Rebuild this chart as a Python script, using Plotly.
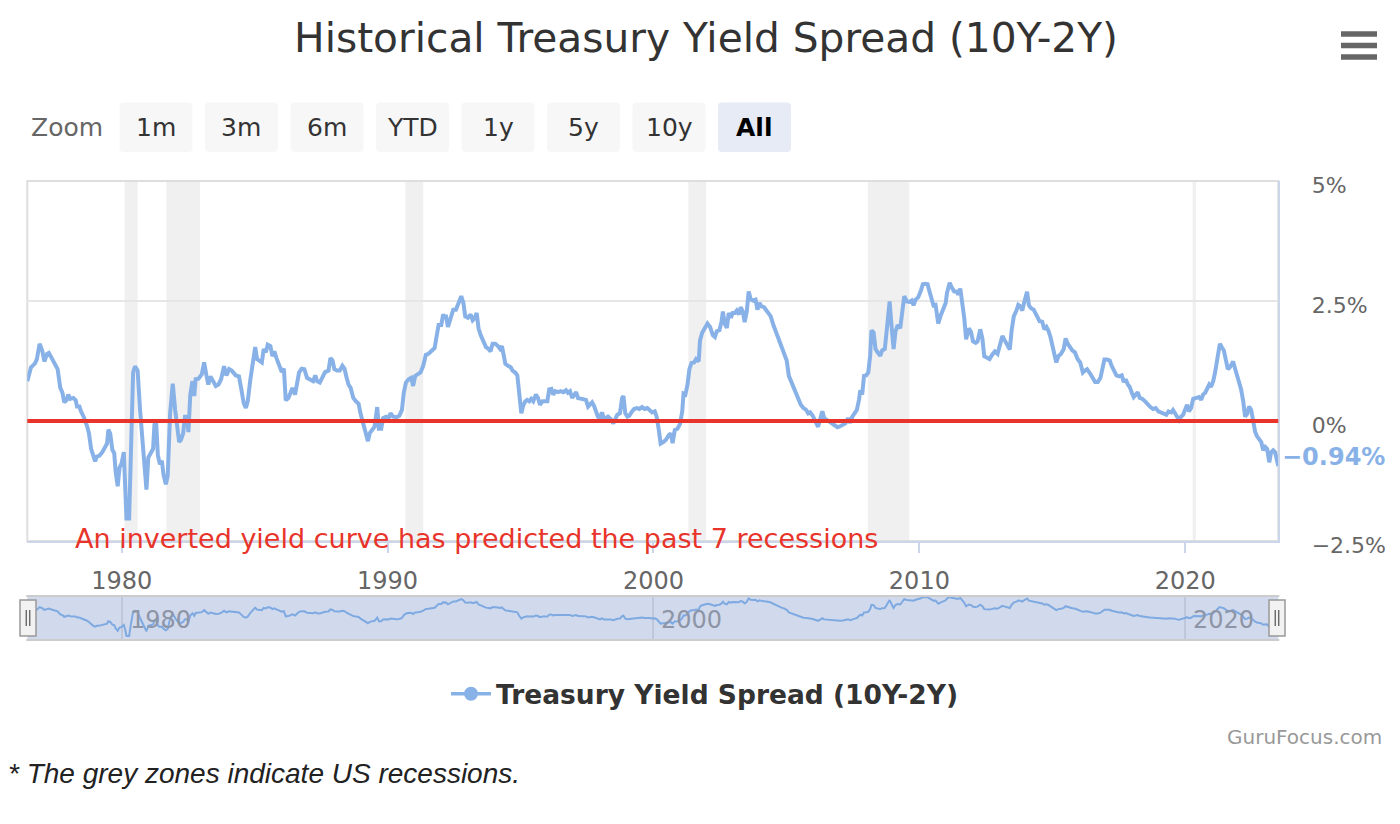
import plotly.graph_objects as go
import pandas as pd

# ---------------- data ----------------
years_1976_1984 = [
    1976.45, 1976.59, 1976.74, 1976.81, 1976.91,
    1977.01, 1977.09, 1977.19, 1977.26, 1977.36, 1977.52, 1977.59, 1977.69, 1977.77, 1977.84, 1977.93, 1977.99,
    1978.07, 1978.18, 1978.27, 1978.32, 1978.41, 1978.47, 1978.57, 1978.70, 1978.77, 1978.85, 1978.92,
    1979.00, 1979.07, 1979.17, 1979.27, 1979.37, 1979.45, 1979.50, 1979.57, 1979.65, 1979.72, 1979.77, 1979.85, 1979.92,
    1980.00, 1980.08, 1980.13, 1980.18, 1980.28, 1980.35, 1980.43, 1980.50, 1980.60, 1980.69, 1980.78, 1980.85, 1980.93,
    1981.00, 1981.10, 1981.18, 1981.23, 1981.29, 1981.36, 1981.44, 1981.51, 1981.57, 1981.66, 1981.73, 1981.82, 1981.92,
    1982.01, 1982.10, 1982.16, 1982.23, 1982.31, 1982.38, 1982.46, 1982.51, 1982.58, 1982.66, 1982.73, 1982.78, 1982.89,
    1983.01, 1983.10, 1983.19, 1983.26, 1983.34, 1983.45, 1983.54, 1983.64, 1983.74, 1983.85, 1983.94,
    1984.04, 1984.14,
]
spread_1976_1984 = [
    0.83, 1.12, 1.20, 1.29, 1.61,
    1.47, 1.24, 1.40, 1.42, 1.31, 1.15, 1.08, 0.69, 0.59, 0.39, 0.44, 0.55,
    0.46, 0.48, 0.43, 0.30, 0.30, 0.20, 0.09, -0.11, -0.26, -0.58, -0.72,
    -0.84, -0.74, -0.72, -0.65, -0.54, -0.47, -0.18, -0.26, -0.60, -0.67, -1.04, -1.36, -0.97,
    -0.88, -0.65, -1.18, -2.03, -2.03, -0.47, 1.01, 1.14, 1.05, 0.23, -0.32, -0.86, -1.43,
    -0.76, -0.65, -0.58, -0.08, 0.02, -0.72, -0.90, -0.83, -1.11, -1.32, -1.14, 0.16, 0.78,
    0.23, -0.12, -0.44, -0.39, -0.26, 0.09, 0.09, -0.23, 0.55, 0.83, 0.52, 0.87, 0.88,
    0.97, 1.22, 0.94, 0.76, 0.93, 0.80, 0.73, 0.76, 0.87, 1.14, 0.95,
    1.08, 1.05,
]

years_1984_1992 = [
    1984.29, 1984.41, 1984.50, 1984.59, 1984.67, 1984.74, 1984.84, 1984.94,
    1985.02, 1985.09, 1985.19, 1985.27, 1985.34, 1985.42, 1985.49, 1985.59, 1985.67, 1985.74, 1985.82, 1985.92,
    1986.02, 1986.10, 1986.17, 1986.27, 1986.35, 1986.42, 1986.52, 1986.60, 1986.67, 1986.77, 1986.87, 1986.97,
    1987.10, 1987.20, 1987.28, 1987.35, 1987.45, 1987.55, 1987.65, 1987.78, 1987.85, 1987.93,
    1988.00, 1988.10, 1988.20, 1988.30, 1988.38, 1988.46, 1988.53, 1988.61, 1988.71, 1988.81, 1988.91, 1988.98,
    1989.06, 1989.13, 1989.18, 1989.26, 1989.33, 1989.43, 1989.51, 1989.61, 1989.67, 1989.76, 1989.83, 1989.94,
    1990.04, 1990.11, 1990.21, 1990.34, 1990.44, 1990.54, 1990.61, 1990.69, 1990.79, 1990.89, 1990.96,
    1991.04, 1991.14, 1991.24, 1991.34, 1991.44, 1991.54, 1991.64, 1991.77, 1991.84, 1991.92,
    1992.02, 1992.09, 1992.17,
]
spread_1984_1992 = [
    0.95, 0.93, 0.66, 0.37, 0.27, 0.41, 0.87, 1.33,
    1.54, 1.29, 1.26, 1.22, 1.50, 1.43, 1.59, 1.56, 1.35, 1.45, 1.31, 1.15,
    1.02, 1.09, 0.43, 0.48, 0.57, 0.69, 0.55, 0.80, 1.01, 1.09, 1.08, 0.90,
    0.85, 0.83, 0.95, 0.83, 0.80, 0.93, 1.02, 1.05, 1.31, 1.26,
    1.08, 1.05, 1.05, 1.15, 1.09, 0.90, 0.76, 0.69, 0.48, 0.41, 0.36, 0.16,
    -0.01, -0.16, -0.23, -0.42, -0.25, -0.18, -0.12, 0.29, -0.16, -0.16, 0.06, 0.09,
    0.06, 0.16, 0.09, 0.08, 0.11, 0.23, 0.59, 0.80, 0.87, 0.90, 0.73,
    0.94, 0.97, 1.01, 1.15, 1.38, 1.40, 1.45, 1.52, 1.75, 2.00,
    2.00, 2.22, 2.14,
]

years_1992_2000 = [
    1992.19, 1992.27, 1992.37, 1992.47, 1992.57, 1992.64, 1992.77, 1992.85, 1992.92,
    1993.02, 1993.12, 1993.20, 1993.27, 1993.35, 1993.42, 1993.50, 1993.60, 1993.70, 1993.80, 1993.87, 1993.95,
    1994.05, 1994.15, 1994.23, 1994.30, 1994.35, 1994.43, 1994.53, 1994.63, 1994.70, 1994.80, 1994.88, 1994.95,
    1995.03, 1995.10, 1995.18, 1995.25, 1995.33, 1995.40, 1995.48, 1995.58, 1995.66, 1995.73, 1995.83, 1995.93,
    1996.01, 1996.08, 1996.16, 1996.23, 1996.31, 1996.41, 1996.51, 1996.61, 1996.71, 1996.78, 1996.86, 1996.94,
    1997.01, 1997.09, 1997.16, 1997.26, 1997.36, 1997.46, 1997.54, 1997.61, 1997.69, 1997.76, 1997.84, 1997.91, 1997.99,
    1998.06, 1998.14, 1998.22, 1998.29, 1998.39, 1998.49, 1998.57, 1998.64, 1998.74, 1998.82, 1998.87, 1998.94,
    1999.02, 1999.09, 1999.17, 1999.27, 1999.37, 1999.47, 1999.57, 1999.67, 1999.77, 1999.87, 1999.95,
]
spread_1992_2000 = [
    2.21, 1.96, 2.18, 2.32, 2.32, 2.44, 2.60, 2.46, 2.18,
    2.15, 2.22, 2.10, 2.14, 2.25, 1.93, 1.79, 1.66, 1.54, 1.50, 1.45, 1.61,
    1.61, 1.56, 1.50, 1.56, 1.40, 1.19, 1.15, 1.12, 1.05, 1.01, 0.95, 0.52,
    0.16, 0.32, 0.41, 0.44, 0.41, 0.46, 0.41, 0.55, 0.48, 0.34, 0.41, 0.41,
    0.41, 0.66, 0.67, 0.55, 0.62, 0.60, 0.62, 0.60, 0.64, 0.59, 0.62, 0.48,
    0.53, 0.60, 0.48, 0.46, 0.44, 0.44, 0.30, 0.34, 0.39, 0.32, 0.20, 0.09, 0.06,
    0.18, 0.06, 0.06, 0.09, 0.04, -0.05, 0.06, 0.13, 0.16, 0.48, 0.52, 0.16,
    0.09, 0.11, 0.18, 0.25, 0.27, 0.25, 0.29, 0.25, 0.27, 0.23, 0.18,
]

years_2000_2007 = [
    2000.05, 2000.12, 2000.20, 2000.27, 2000.37, 2000.47, 2000.57, 2000.65, 2000.72, 2000.80, 2000.90,
    2001.00, 2001.08, 2001.13, 2001.20, 2001.28, 2001.35, 2001.43, 2001.53, 2001.60, 2001.70, 2001.75, 2001.83, 2001.93,
    2002.03, 2002.13, 2002.23, 2002.31, 2002.38, 2002.48, 2002.56, 2002.61, 2002.68, 2002.76, 2002.83, 2002.91, 2002.98,
    2003.06, 2003.13, 2003.21, 2003.28, 2003.36, 2003.43, 2003.51, 2003.58, 2003.66, 2003.74, 2003.84, 2003.91, 2003.99,
    2004.06, 2004.16, 2004.24, 2004.31, 2004.41, 2004.51, 2004.61, 2004.71, 2004.81, 2004.91,
    2005.01, 2005.09, 2005.19, 2005.29, 2005.37, 2005.47, 2005.54, 2005.64, 2005.74, 2005.82, 2005.89, 2005.99,
    2006.09, 2006.19, 2006.27, 2006.35, 2006.42, 2006.52, 2006.62, 2006.72, 2006.82, 2006.92,
    2007.02, 2007.12, 2007.22, 2007.32, 2007.40, 2007.48, 2007.58, 2007.65, 2007.73, 2007.78,
]
spread_2000_2007 = [
    0.20, 0.09, -0.18, -0.47, -0.44, -0.39, -0.30, -0.26, -0.46, -0.19, -0.16,
    -0.06, 0.20, 0.57, 0.55, 0.76, 1.08, 1.21, 1.22, 1.29, 1.24, 1.68, 1.84, 1.94,
    2.03, 1.96, 1.79, 1.75, 1.87, 1.89, 2.07, 2.28, 2.03, 1.94, 2.25, 2.15, 2.25,
    2.25, 2.30, 2.22, 2.37, 2.28, 2.06, 2.28, 2.70, 2.53, 2.51, 2.53, 2.32, 2.46,
    2.39, 2.37, 2.30, 2.27, 2.18, 2.00, 1.86, 1.72, 1.54, 1.45,
    1.26, 0.94, 0.80, 0.71, 0.60, 0.44, 0.34, 0.27, 0.23, 0.16, 0.18, 0.11,
    -0.01, -0.12, 0.04, 0.20, 0.06, 0.02, -0.01, -0.05, -0.08, -0.13,
    -0.11, -0.08, -0.05, 0.06, -0.04, 0.09, 0.16, 0.23, 0.44, 0.64,
]

years_2007_2015 = [
    2007.85, 2007.92,
    2008.00, 2008.08, 2008.15, 2008.20, 2008.28, 2008.35, 2008.43, 2008.53, 2008.60, 2008.70, 2008.78, 2008.88, 2008.95,
    2009.03, 2009.10, 2009.18, 2009.28, 2009.36, 2009.43, 2009.53, 2009.63, 2009.71, 2009.78, 2009.86, 2009.96,
    2010.06, 2010.13, 2010.23, 2010.31, 2010.38, 2010.46, 2010.53, 2010.61, 2010.71, 2010.81, 2010.91, 2010.99,
    2011.04, 2011.14, 2011.21, 2011.31, 2011.41, 2011.46, 2011.54, 2011.61, 2011.69, 2011.76, 2011.86, 2011.94,
    2012.02, 2012.12, 2012.19, 2012.29, 2012.37, 2012.44, 2012.54, 2012.64, 2012.74, 2012.84, 2012.94,
    2013.04, 2013.12, 2013.19, 2013.30, 2013.40, 2013.47, 2013.55, 2013.65, 2013.72, 2013.80, 2013.87, 2013.95,
    2014.05, 2014.12, 2014.20, 2014.30, 2014.37, 2014.45, 2014.52, 2014.62, 2014.70, 2014.78, 2014.85, 2014.93,
    2015.00, 2015.08, 2015.15, 2015.23, 2015.33, 2015.43, 2015.50, 2015.58,
]
spread_2007_2015 = [
    0.55, 0.94,
    0.95, 1.01, 1.36, 1.89, 1.84, 1.50, 1.43, 1.36, 1.47, 1.50, 1.93, 2.49, 2.00,
    1.50, 1.86, 2.00, 1.93, 2.32, 2.60, 2.49, 2.48, 2.51, 2.41, 2.53, 2.58,
    2.72, 2.85, 2.86, 2.85, 2.70, 2.56, 2.41, 2.42, 2.03, 2.21, 2.37, 2.46,
    2.67, 2.88, 2.79, 2.70, 2.70, 2.63, 2.76, 2.49, 2.14, 1.70, 1.93, 1.86,
    1.66, 1.63, 1.66, 1.91, 1.72, 1.35, 1.33, 1.29, 1.38, 1.45, 1.40,
    1.59, 1.77, 1.70, 1.57, 1.49, 1.89, 2.18, 2.30, 2.42, 2.39, 2.30, 2.49,
    2.69, 2.41, 2.35, 2.32, 2.25, 2.14, 2.08, 2.07, 1.91, 1.96, 1.89, 1.75,
    1.57, 1.38, 1.22, 1.35, 1.40, 1.50, 1.72, 1.61,
]

years_2015_2023 = [
    2015.65, 2015.75, 2015.85, 2015.95,
    2016.05, 2016.15, 2016.23, 2016.31, 2016.41, 2016.51, 2016.61, 2016.71, 2016.81, 2016.88, 2016.96,
    2017.06, 2017.16, 2017.23, 2017.33, 2017.41, 2017.51, 2017.61, 2017.69, 2017.76, 2017.84, 2017.91, 2017.99,
    2018.06, 2018.14, 2018.21, 2018.29, 2018.39, 2018.49, 2018.59, 2018.69, 2018.79, 2018.89, 2018.99,
    2019.09, 2019.19, 2019.29, 2019.37, 2019.47, 2019.54, 2019.62, 2019.69, 2019.77, 2019.84, 2019.92, 2019.99,
    2020.07, 2020.14, 2020.22, 2020.30, 2020.37, 2020.45, 2020.52, 2020.60, 2020.67, 2020.75, 2020.82, 2020.90, 2020.97,
    2021.05, 2021.12, 2021.17, 2021.22, 2021.30, 2021.37, 2021.45, 2021.52, 2021.60, 2021.68, 2021.75, 2021.80, 2021.88, 2021.95,
    2022.03, 2022.10, 2022.18, 2022.25, 2022.33, 2022.40, 2022.48, 2022.55, 2022.63, 2022.70, 2022.78, 2022.86, 2022.93,
    2023.01, 2023.08, 2023.16, 2023.23, 2023.31, 2023.38, 2023.50,
]
spread_2015_2023 = [
    1.54, 1.47, 1.43, 1.29,
    1.22, 1.01, 1.05, 1.08, 1.00, 0.90, 0.81, 0.81, 0.90, 1.08, 1.28,
    1.28, 1.26, 1.15, 1.05, 0.95, 0.93, 0.95, 0.81, 0.87, 0.76, 0.71, 0.59,
    0.50, 0.55, 0.60, 0.48, 0.46, 0.41, 0.34, 0.29, 0.25, 0.27, 0.20,
    0.18, 0.16, 0.13, 0.20, 0.18, 0.23, 0.15, 0.06, 0.02, 0.09, 0.13, 0.23,
    0.34, 0.20, 0.27, 0.46, 0.48, 0.48, 0.50, 0.44, 0.55, 0.59, 0.66, 0.76, 0.71,
    0.83, 1.01, 1.19, 1.40, 1.61, 1.54, 1.47, 1.29, 1.08, 1.12, 1.19, 1.24, 1.08, 0.94,
    0.83, 0.66, 0.41, 0.09, 0.15, 0.30, 0.23, -0.05, -0.23, -0.32, -0.37, -0.44, -0.61,
    -0.54, -0.58, -0.86, -0.65, -0.61, -0.65, -0.94,
]

recession_starts = [1980.11, 1981.68, 1990.67, 2001.31, 2008.06, 2020.28]
recession_ends = [1980.60, 1982.95, 1991.34, 2001.98, 2009.62, 2020.40]

x_tick_years = [1980, 1990, 2000, 2010, 2020]
navigator_tick_years = [1980, 2000, 2020]
y_tick_values = [-2.5, 0, 2.5, 5]
y_tick_labels = ["\u22122.5%", "0%", "2.5%", "5%"]
zoom_buttons = ["1m", "3m", "6m", "YTD", "1y", "5y", "10y", "All"]
active_button = "All"

series_name = "Treasury Yield Spread (10Y-2Y)"
title_text = "Historical Treasury Yield Spread (10Y-2Y)"
note_text = "An inverted yield curve has predicted the past 7 recessions"
footnote_text = "* The grey zones indicate US recessions."
credits_text = "GuruFocus.com"

# ---------------- assemble ----------------
segments = [
    (years_1976_1984, spread_1976_1984), (years_1984_1992, spread_1984_1992),
    (years_1992_2000, spread_1992_2000), (years_2000_2007, spread_2000_2007),
    (years_2007_2015, spread_2007_2015), (years_2015_2023, spread_2015_2023),
]
years, spread = [], []
for ys, vs in segments:
    if len(ys) != len(vs):
        raise ValueError(f"segment starting {ys[0]}: {len(ys)} years vs {len(vs)} values")
    years += ys
    spread += vs


def to_date(v):
    y = int(v)
    start = pd.Timestamp(year=y, month=1, day=1)
    end = pd.Timestamp(year=y + 1, month=1, day=1)
    return start + (end - start) * (v - y)


dates = [to_date(v) for v in years]

W, H = 1400, 824
FONT = "DejaVu Sans"
LINE_COLOR = "#88b2e7"
RED = "#e8342a"


def fx(p):
    return p / W


def fy(p):
    return 1 - p / H


PL, PR, PT, PB = 27.3, 1278.3, 181, 541      # main plot box (px)
NT, NB = 596, 640                            # navigator box (px)

fig = go.Figure()

fig.add_trace(go.Scatter(
    x=dates, y=spread, mode="lines", name=series_name, showlegend=False,
    line=dict(color=LINE_COLOR, width=4), xaxis="x", yaxis="y",
    hovertemplate="%{x|%b %Y}: %{y:.2f}%<extra></extra>",
))
# legend entry (line + circle marker)
fig.add_trace(go.Scatter(
    x=[None], y=[None], mode="lines+markers", name=series_name,
    line=dict(color=LINE_COLOR, width=3.5),
    marker=dict(color=LINE_COLOR, size=14, symbol="circle"),
))
# navigator series
fig.add_trace(go.Scatter(
    x=dates, y=spread, mode="lines", showlegend=False, hoverinfo="skip",
    line=dict(color="#7ea9e1", width=2), xaxis="x2", yaxis="y2",
))

shapes = []
# recession zones
for s, e in zip(recession_starts, recession_ends):
    shapes.append(dict(type="rect", xref="x", yref="y domain", x0=to_date(s), x1=to_date(e),
                       y0=0, y1=1, fillcolor="#f0f0f0", line=dict(width=0), layer="below"))
# plot border (top/left)
shapes.append(dict(type="rect", xref="paper", yref="paper", x0=fx(PL), x1=fx(PR), y0=fy(PB), y1=fy(PT),
                   line=dict(color="#dedede", width=2), layer="below"))
# zero line
shapes.append(dict(type="line", xref="x domain", yref="y", x0=0, x1=1, y0=0, y1=0,
                   line=dict(color=RED, width=4), layer="above"))
# navigator background + outline
shapes.append(dict(type="rect", xref="paper", yref="paper", x0=fx(PL), x1=fx(PR), y0=fy(NB), y1=fy(NT),
                   fillcolor="rgba(102,133,194,0.3)", line=dict(width=0), layer="below"))
for yy in (NT, NB):
    shapes.append(dict(type="line", xref="paper", yref="paper", x0=fx(PL - 1), x1=fx(PR + 1), y0=fy(yy), y1=fy(yy),
                       line=dict(color="#cccccc", width=2), layer="above"))
# navigator handles
for cx in (PL + 0.7, PR - 1.3):
    shapes.append(dict(type="rect", xref="paper", yref="paper", x0=fx(cx - 8), x1=fx(cx + 8),
                       y0=fy(636), y1=fy(600), fillcolor="#f2f2f2", line=dict(color="#999999", width=1.5),
                       layer="above"))
    for dx in (-1.8, 1.8):
        shapes.append(dict(type="line", xref="paper", yref="paper", x0=fx(cx + dx), x1=fx(cx + dx),
                           y0=fy(626), y1=fy(610), line=dict(color="#333333", width=1), layer="above"))


# range selector buttons (rounded rects)
def rounded(x0, y0, x1, y1, r=4):
    X0, X1, Y0, Y1 = fx(x0), fx(x1), fy(y0), fy(y1)
    rx, ry = r / W, r / H
    return (f"M {X0+rx},{Y0} L {X1-rx},{Y0} Q {X1},{Y0} {X1},{Y0-ry} "
            f"L {X1},{Y1+ry} Q {X1},{Y1} {X1-rx},{Y1} L {X0+rx},{Y1} Q {X0},{Y1} {X0},{Y1+ry} "
            f"L {X0},{Y0-ry} Q {X0},{Y0} {X0+rx},{Y0} Z")


annotations = []
BX0, BW, BSTEP, BY0, BY1 = 119.5, 73, 85.5, 102.5, 152
for i, lab in enumerate(zoom_buttons):
    x0 = BX0 + i * BSTEP
    active = lab == active_button
    shapes.append(dict(type="path", xref="paper", yref="paper", path=rounded(x0, BY0, x0 + BW, BY1),
                       fillcolor="#e6ebf5" if active else "#f7f7f7", line=dict(width=0)))
    annotations.append(dict(xref="paper", yref="paper", x=fx(x0 + BW / 2), y=fy((BY0 + BY1) / 2),
                            text=f"<b>{lab}</b>" if active else lab, showarrow=False,
                            xanchor="center", yanchor="middle",
                            font=dict(family=FONT, size=25, color="#000000" if active else "#333333")))
annotations.append(dict(xref="paper", yref="paper", x=fx(29), y=fy(127.5), text="Zoom", showarrow=False,
                        xanchor="left", yanchor="middle", font=dict(family=FONT, size=25, color="#666666")))

# hamburger menu
for yy in (34, 45.5, 57):
    shapes.append(dict(type="line", xref="paper", yref="paper", x0=fx(1341), x1=fx(1377), y0=fy(yy), y1=fy(yy),
                       line=dict(color="#666666", width=5.5)))

# red note inside the plot
annotations.append(dict(xref="paper", yref="paper", x=fx(73), y=fy(538), text=note_text, showarrow=False,
                        xanchor="left", yanchor="middle", font=dict(family=FONT, size=27, color=RED)))
# last value label
last_val = spread[-1]
last_txt = (f"{last_val:.2f}%").replace("-", "\u2212")
annotations.append(dict(xref="x", yref="y", x=dates[-1], y=last_val, text=f"<b>{last_txt}</b>", showarrow=False,
                        xanchor="left", yanchor="middle", xshift=2, yshift=9,
                        font=dict(family=FONT, size=24, color=LINE_COLOR)))
# navigator labels
for yv in navigator_tick_years:
    annotations.append(dict(xref="x2", yref="paper", x=to_date(yv), y=fy(620), text=str(yv), showarrow=False,
                            xanchor="left", yanchor="middle", xshift=6,
                            font=dict(family=FONT, size=24, color="#8e95a6")))
# credits & footnote
annotations.append(dict(xref="paper", yref="paper", x=fx(1384), y=fy(737), text=credits_text, showarrow=False,
                        xanchor="right", yanchor="middle", font=dict(family=FONT, size=20, color="#999999")))
annotations.append(dict(xref="paper", yref="paper", x=fx(6), y=fy(773), text=f"<i>{footnote_text}</i>",
                        showarrow=False, xanchor="left", yanchor="middle",
                        font=dict(family="Liberation Sans", size=28, color="#222222")))

x_range = [dates[0], dates[-1]]

fig.update_layout(
    width=W, height=H, autosize=False,
    margin=dict(l=0, r=0, t=0, b=0, pad=0, autoexpand=False),
    paper_bgcolor="white", plot_bgcolor="rgba(0,0,0,0)",
    font=dict(family=FONT, color="#333333"),
    title=dict(text=title_text, x=fx(706), xanchor="center", y=fy(38), yanchor="middle",
               xref="paper", yref="paper", automargin=False,
               font=dict(family=FONT, size=40.7, color="#333333")),
    xaxis=dict(domain=[fx(PL), fx(PR)], anchor="y", type="date", range=x_range, automargin=False,
               tickvals=[to_date(v) for v in x_tick_years], ticktext=[str(v) for v in x_tick_years],
               ticks="outside", ticklen=10, tickwidth=2, tickcolor="#ccd6eb",
               showline=True, linecolor="#ccd6eb", linewidth=2, showgrid=False, zeroline=False,
               tickfont=dict(family=FONT, size=24, color="#666666"), ticklabelstandoff=7, fixedrange=True),
    yaxis=dict(domain=[fy(PB), fy(PT)], anchor="x", side="right", range=[-2.5, 5], automargin=False,
               tickvals=y_tick_values, ticktext=y_tick_labels, ticks="",
               showgrid=True, gridcolor="#e6e6e6", gridwidth=2, zeroline=False,
               showline=True, linecolor="#ccd6eb", linewidth=2,
               tickfont=dict(family=FONT, size=22, color="#666666"), ticklabelstandoff=27,
               ticklabelshift=4, fixedrange=True),
    xaxis2=dict(domain=[fx(PL), fx(PR)], anchor="y2", type="date", range=x_range, automargin=False,
                tickvals=[to_date(v) for v in navigator_tick_years], showticklabels=False, ticks="",
                showgrid=True, gridcolor="#bfc8da", gridwidth=1.5, showline=False, zeroline=False,
                fixedrange=True),
    yaxis2=dict(domain=[fy(NB), fy(NT)], anchor="x2", range=[-2.53, 3.0], showgrid=False, automargin=False,
                showticklabels=False, zeroline=False, showline=False, ticks="", fixedrange=True),
    showlegend=True,
    legend=dict(orientation="h", x=fx(705), xanchor="center", y=fy(694), yanchor="middle",
                font=dict(family=FONT, size=26.5, color="#333333", weight="bold"),
                bgcolor="rgba(0,0,0,0)", itemwidth=40),
    shapes=shapes, annotations=annotations,
    hovermode="closest",
)

fig.write_html("out.html", config={"displayModeBar": False},
               post_script="document.body.style.margin='0';document.body.style.overflow='hidden';")
